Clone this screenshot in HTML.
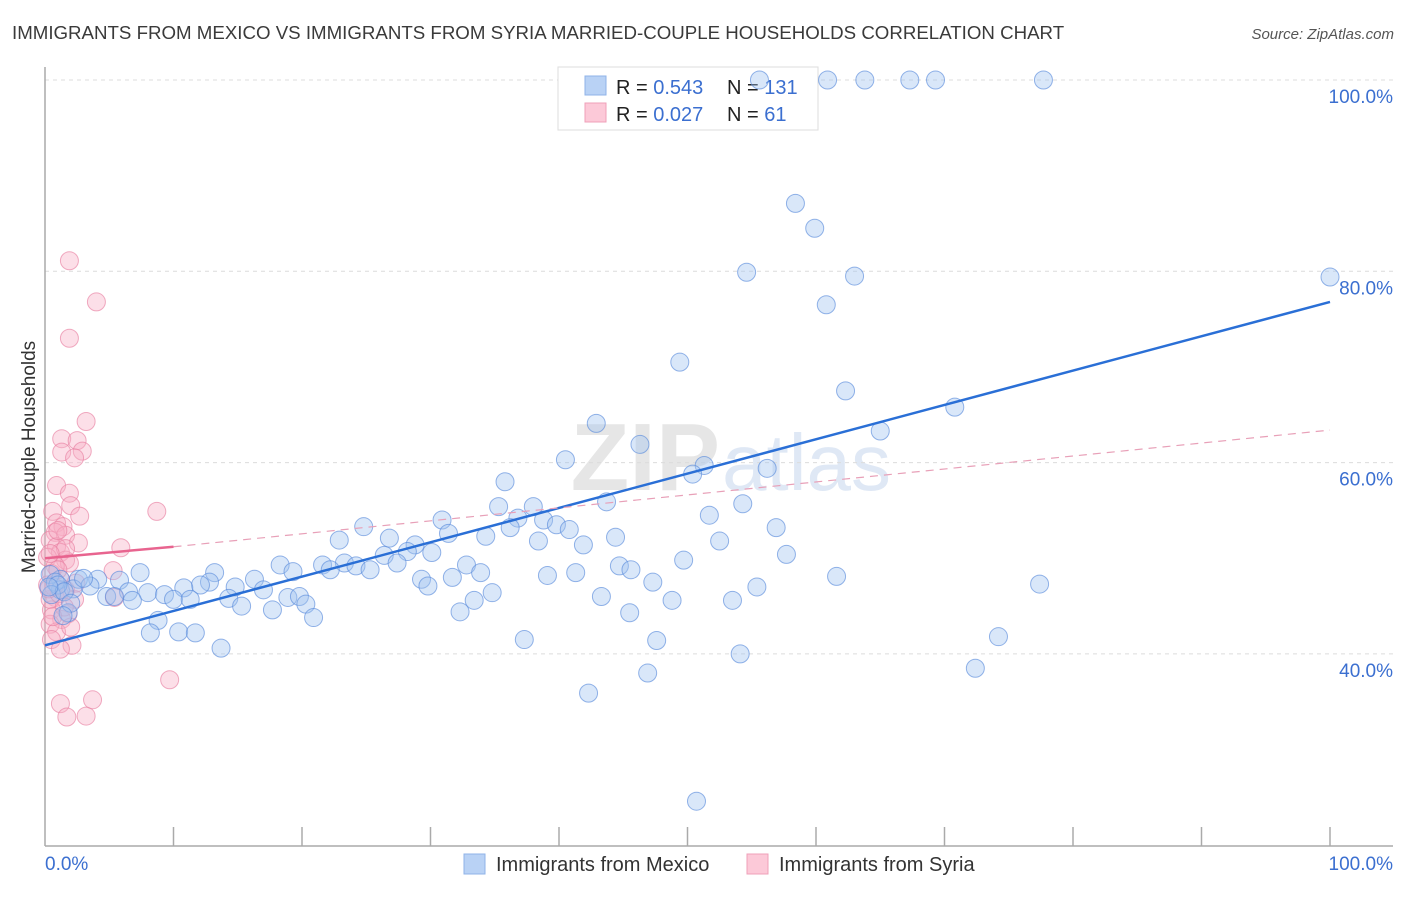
<!DOCTYPE html>
<html><head><meta charset="utf-8"><style>
body{margin:0;background:#fff;font-family:"Liberation Sans",sans-serif;}
</style></head><body>
<svg id="chart" width="1406" height="892" xmlns="http://www.w3.org/2000/svg" style="font-family:'Liberation Sans',sans-serif">
<text x="12" y="39" font-size="18.7" fill="#3a3a3a">IMMIGRANTS FROM MEXICO VS IMMIGRANTS FROM SYRIA MARRIED-COUPLE HOUSEHOLDS CORRELATION CHART</text>
<text x="1394" y="39" font-size="15" fill="#555" font-style="italic" text-anchor="end">Source: ZipAtlas.com</text>
<text x="720" y="490" font-size="96" font-weight="bold" fill="#e6e6e6" text-anchor="end">ZIP</text>
<text x="722" y="490" font-size="80" fill="#dfe8f5">atlas</text>
<g id="grid"></g>
<g id="axes"></g>
<text transform="translate(35,457) rotate(-90)" font-size="19" fill="#333" text-anchor="middle">Married-couple Households</text>
<g>
<rect x="558" y="67" width="260" height="63" fill="#fff" stroke="#ddd"/>
<rect x="585" y="76" width="21" height="19" fill="#b9d2f5" stroke="#8fb3e8"/>
<rect x="585" y="103" width="21" height="19" fill="#fcc9d8" stroke="#efa0b9"/>
<text x="616" y="94" font-size="20" fill="#222">R = <tspan fill="#3b6fd0">0.543</tspan></text>
<text x="727" y="94" font-size="20" fill="#222">N = <tspan fill="#3b6fd0">131</tspan></text>
<text x="616" y="121" font-size="20" fill="#222">R = <tspan fill="#3b6fd0">0.027</tspan></text>
<text x="727" y="121" font-size="20" fill="#222">N = <tspan fill="#3b6fd0">  61</tspan></text>
</g>
<g id="marks"></g>
<g>
<rect x="464" y="854" width="21" height="20" fill="#b9d2f5" stroke="#8fb3e8"/>
<text x="496" y="871" font-size="20" fill="#333">Immigrants from Mexico</text>
<rect x="747" y="854" width="21" height="20" fill="#fcc9d8" stroke="#efa0b9"/>
<text x="779" y="871" font-size="20" fill="#333">Immigrants from Syria</text>
</g>
</svg>
<script>
const yTicks=[40,60,80,100];
const yTickLabels=["40.0%","60.0%","80.0%","100.0%"];
const xTickVals=[0,10,20,30,40,50,60,70,80,90,100];
const mexicoX=[55.6,60.9,63.8,67.3,69.3,77.7,58.4,59.9,54.6,63.0,60.8,100,49.4,62.3,70.8,65.0,42.9,46.3,40.5,51.3,50.4,56.2,35.8,43.7,54.3,35.3,38.0,36.8,51.7,30.9,38.8,39.8,40.8,36.2,34.3,31.4,44.4,56.9,24.8,38.4,41.9,52.5,22.9,26.8,28.8,49.7,57.7,18.3,21.6,23.3,24.2,26.4,28.2,30.1,27.4,25.3,22.2,32.8,44.7,45.6,33.9,31.7,39.1,41.3,19.3,13.2,7.4,61.6,47.3,77.4,55.4,29.3,29.8,16.3,12.8,12.1,10.8,14.8,17.0,4.1,5.8,2.6,1.2,3.5,4.8,6.5,8.0,9.3,10.0,11.3,14.3,18.9,19.8,15.3,20.3,17.7,5.4,6.8,43.3,33.4,34.8,48.8,53.5,32.3,45.5,20.9,8.8,1.8,1.2,0.4,8.2,10.4,11.7,37.3,47.6,74.2,13.7,54.1,46.9,72.4,42.3,50.7,0.8,2.2,1.0,0.5,3.0,1.5,2.0,0.3,1.4];
const mexicoY=[100,100,100,100,100,100,87.1,84.5,79.9,79.5,76.5,79.4,70.5,67.5,65.8,63.3,64.1,61.9,60.3,59.7,58.8,59.4,58.0,55.9,55.7,55.4,55.4,54.2,54.5,54.0,54.0,53.5,53.0,53.2,52.3,52.6,52.2,53.2,53.3,51.8,51.4,51.8,51.9,52.1,51.4,49.8,50.4,49.3,49.3,49.5,49.2,50.3,50.7,50.6,49.5,48.8,48.8,49.3,49.2,48.8,48.5,48.0,48.2,48.5,48.6,48.5,48.5,48.1,47.5,47.3,47.0,47.8,47.1,47.8,47.5,47.2,46.9,47.0,46.7,47.8,47.7,47.8,47.8,47.1,46.0,46.5,46.4,46.2,45.7,45.7,45.8,45.9,46.0,45.0,45.2,44.6,46.0,45.6,46.0,45.6,46.4,45.6,45.6,44.4,44.3,43.8,43.5,44.3,46.7,48.3,42.2,42.3,42.2,41.5,41.4,41.8,40.6,40.0,38.0,38.5,35.9,24.6,47.5,46.8,47.2,46.2,47.9,46.5,45.3,47.0,44.0];
const syriaX=[1.9,4.0,1.9,3.2,1.3,2.5,1.3,2.9,2.3,0.9,1.9,2.0,0.6,2.7,8.7,0.9,1.4,0.8,1.6,0.4,2.6,0.9,1.2,0.2,5.9,1.6,1.9,0.8,5.3,0.5,1.2,0.2,1.6,0.8,2.3,5.4,0.5,1.8,1.3,0.4,0.9,0.5,2.1,1.2,9.7,1.2,3.7,1.7,3.2,0.4,1.0,1.6,0.7,1.1,2.4,0.3,1.5,0.6,2.0,1.0,0.4];
const syriaY=[81.1,76.8,73.0,64.3,62.5,62.3,61.1,61.2,60.5,57.6,56.8,55.5,54.9,54.4,54.9,53.7,53.3,52.7,52.4,51.9,51.6,51.2,50.6,50.1,51.1,49.8,49.5,49.2,48.7,48.4,47.8,47.2,46.7,45.9,45.7,45.9,44.6,44.2,43.6,43.1,42.3,41.5,40.9,40.5,37.3,34.8,35.2,33.4,33.5,45.7,48.8,51.0,47.0,46.3,47.4,46.8,44.9,43.9,42.8,52.9,50.5];
const mexicoTrend=[40.9,76.8];
const syriaTrend=[50.0,51.2,63.4];
const NS="http://www.w3.org/2000/svg";
const X0=45,X1=1330,Y100=80,PX20=191.3;
function xs(v){return X0+(X1-X0)*v/100;}
function ys(v){return Y100+(100-v)*PX20/20;}
function mk(tag,attrs,parent){const e=document.createElementNS(NS,tag);for(const k in attrs)e.setAttribute(k,attrs[k]);parent.appendChild(e);return e;}
const grid=document.getElementById('grid'),axes=document.getElementById('axes'),marks=document.getElementById('marks');
yTicks.forEach((t,i)=>{
 const l=mk('line',{x1:45,x2:1393,y1:ys(t),y2:ys(t),stroke:'#dcdcdc','stroke-dasharray':'4,4'},grid);
 
 
 const tx=mk('text',{x:1393,y:ys(t)+23,'font-size':19,fill:'#3b6fd0','text-anchor':'end'},axes);
 tx.textContent=yTickLabels[i];
 
 
});
const ya=mk('line',{x1:45,x2:45,y1:67,y2:846,stroke:'#aaa','stroke-width':1.5},axes);


const xa=mk('line',{x1:45,x2:1393,y1:846,y2:846,stroke:'#aaa','stroke-width':1.5},axes);


xTickVals.forEach(v=>{
 if(v===0)return;
 const t=mk('line',{x1:xs(v),x2:xs(v),y1:827,y2:846,stroke:'#aaa','stroke-width':1.5},axes);
 
 
});
const xl0=mk('text',{x:45,y:870,'font-size':19,fill:'#3b6fd0'},axes);xl0.textContent='0.0%';


const xl1=mk('text',{x:1393,y:870,'font-size':19,fill:'#3b6fd0','text-anchor':'end'},axes);xl1.textContent='100.0%';


syriaX.forEach((x,i)=>{
 const c=mk('circle',{cx:xs(x),cy:ys(syriaY[i]),r:9,fill:'rgba(248,176,198,0.4)',stroke:'rgba(232,128,162,0.65)','stroke-width':1},marks);
 
 
});
mexicoX.forEach((x,i)=>{
 const c=mk('circle',{cx:xs(x),cy:ys(mexicoY[i]),r:9,fill:'rgba(160,195,240,0.4)',stroke:'rgba(90,140,220,0.65)','stroke-width':1},marks);
 
 
});
const tm=mk('line',{x1:xs(0),y1:ys(mexicoTrend[0]),x2:xs(100),y2:ys(mexicoTrend[1]),stroke:'#2a6fd6','stroke-width':2.5},marks);


const ts=mk('line',{x1:xs(0),y1:ys(syriaTrend[0]),x2:xs(10),y2:ys(syriaTrend[1]),stroke:'#e8648f','stroke-width':2.5},marks);


const td=mk('line',{x1:xs(10),y1:ys(syriaTrend[1]),x2:xs(100),y2:ys(syriaTrend[2]),stroke:'#e8a0b8','stroke-width':1.2,'stroke-dasharray':'8,6'},marks);


</script>
</body></html>
